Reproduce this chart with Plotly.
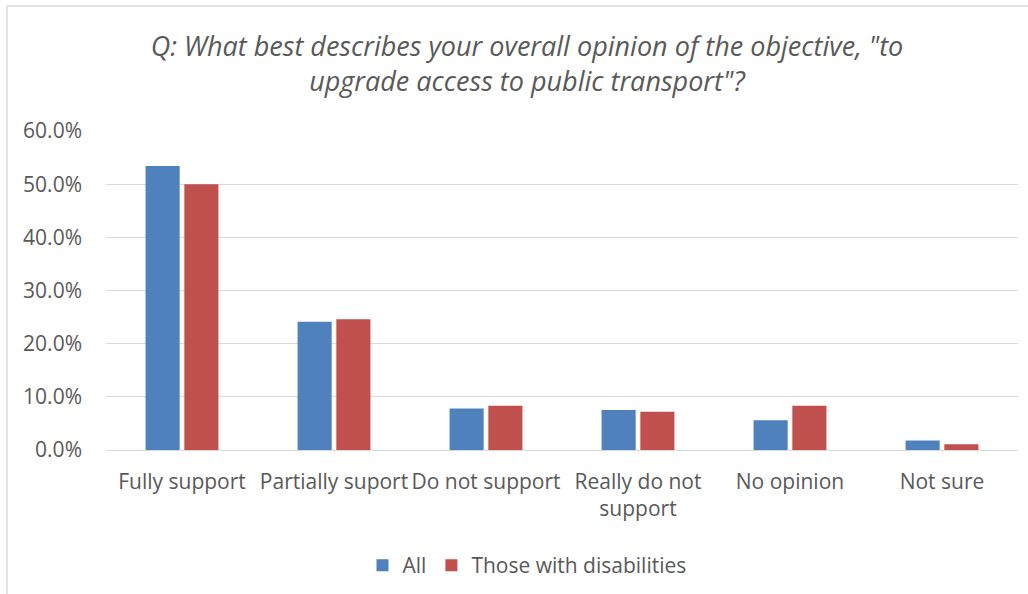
import plotly.graph_objects as go

categories = ["Fully support", "Partially suport", "Do not support",
              "Really do not<br>support", "No opinion", "Not sure"]
all_vals = [0.534, 0.241, 0.078, 0.075, 0.056, 0.018]
dis_vals = [0.500, 0.246, 0.083, 0.072, 0.083, 0.011]
series_names = ["All", "Those with disabilities"]
tick_vals = [0, 0.1, 0.2, 0.3, 0.4, 0.5, 0.6]
tick_text = ["0.0%", "10.0%", "20.0%", "30.0%", "40.0%", "50.0%", "60.0%"]

W, H = 1028, 594
FONT = "Open Sans"
GREY = "#595959"

fig = go.Figure()
fig.add_trace(go.Bar(x=categories, y=all_vals, name=series_names[0],
                     marker=dict(color="#4f81bd", line=dict(color="#4f81bd", width=0))))
fig.add_trace(go.Bar(x=categories, y=dis_vals, name=series_names[1],
                     marker=dict(color="#c0504d", line=dict(color="#c0504d", width=0))))

def px_x(x):
    return x / W

def px_y(y):
    return 1 - y / H

fig.update_layout(
    width=W, height=H,
    margin=dict(l=0, r=0, t=0, b=0, autoexpand=False),
    paper_bgcolor="white", plot_bgcolor="white",
    barmode="group", bargap=0.49, bargroupgap=0.12,
    font=dict(family=FONT, color=GREY, size=21),
    title=dict(
        text="Q: What best describes your overall opinion of the objective, \"to<br>upgrade access to public transport\"?",
        x=527 / W, xanchor="center", y=px_y(56), yanchor="top",
        font=dict(family=FONT, size=27, color=GREY, style="italic"),
    ),
    xaxis=dict(domain=[px_x(106), px_x(1018)], showgrid=False, showline=False,
               ticks="", tickfont=dict(size=21, color=GREY), anchor="y",
               automargin=False, ticklabelstandoff=17),
    yaxis=dict(domain=[px_y(450), px_y(131)], range=[0, 0.6],
               tickvals=tick_vals, ticktext=tick_text,
               showgrid=True, gridcolor="#d9d9d9", gridwidth=1.3,
               zeroline=True, zerolinecolor="#d9d9d9", zerolinewidth=1.3,
               showline=False, ticks="", tickfont=dict(size=21, color=GREY),
               ticklabelstandoff=23, automargin=False),
    legend=dict(orientation="h", x=527 / W, xanchor="center", y=px_y(545), yanchor="top",
                font=dict(size=21, color=GREY), itemwidth=30, traceorder="normal"),
    showlegend=True,
    shapes=[
        dict(type="line", xref="paper", yref="paper", x0=px_x(7), x1=px_x(7),
             y0=px_y(6), y1=0, line=dict(color="#d9d9d9", width=1.5)),
        dict(type="line", xref="paper", yref="paper", x0=px_x(7), x1=1,
             y0=px_y(6), y1=px_y(6), line=dict(color="#d9d9d9", width=1.5)),
    ],
)

fig.write_html("out.html", config={"displayModeBar": False},
               post_script="document.body.style.margin='0';")
